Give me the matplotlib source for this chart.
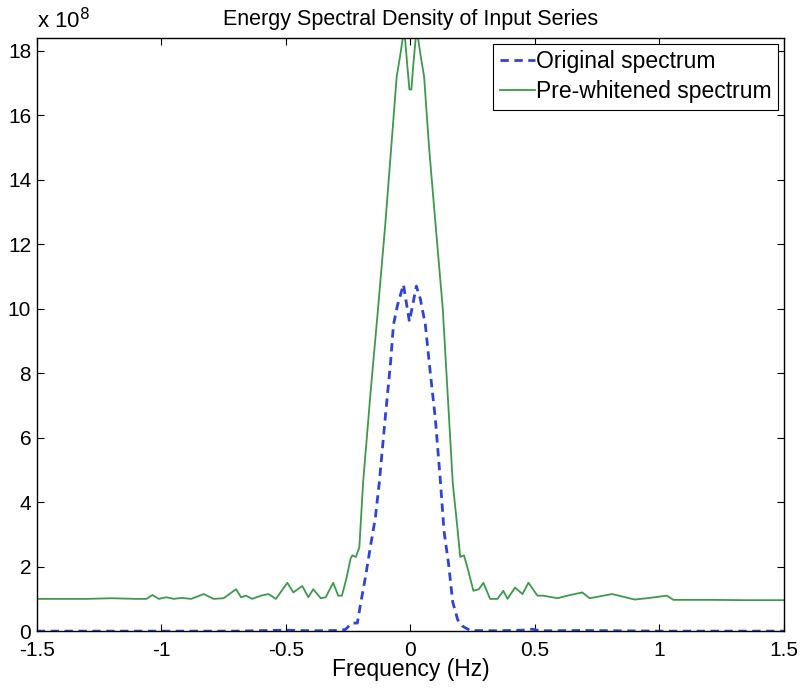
import numpy as np
import matplotlib
matplotlib.use("Agg")
import matplotlib.pyplot as plt

plt.rcParams['font.family'] = ['Liberation Sans', 'DejaVu Sans']
plt.rcParams['axes.unicode_minus'] = False

# values in units of 1e8
freq_white = [-1.5, -1.3, -1.2, -1.1, -1.06, -1.036, -1.01, -0.98, -0.95, -0.92, -0.88,
              -0.83, -0.79, -0.75, -0.70, -0.68, -0.66, -0.635, -0.60, -0.57, -0.54,
              -0.494, -0.47, -0.434, -0.41, -0.39, -0.36, -0.34, -0.31, -0.29, -0.275,
              -0.258, -0.24, -0.233, -0.219, -0.205, -0.19, -0.16, -0.13, -0.10, -0.075,
              -0.055, -0.04, -0.025, -0.012, -0.004, 0.004, 0.012, 0.025, 0.04, 0.055,
              0.075, 0.10, 0.13, 0.17, 0.19, 0.20, 0.215, 0.228, 0.253, 0.275, 0.293,
              0.32, 0.35, 0.373, 0.39, 0.42, 0.45, 0.474, 0.51, 0.534, 0.59, 0.63, 0.69,
              0.72, 0.81, 0.90, 0.95, 1.03, 1.056, 1.2, 1.35, 1.5]
white_vals = [1.0, 1.0, 1.02, 1.0, 1.0, 1.12, 1.0, 1.05, 1.0, 1.03, 1.0,
              1.15, 1.0, 1.02, 1.3, 1.05, 1.1, 1.0, 1.1, 1.15, 1.0,
              1.5, 1.2, 1.4, 1.05, 1.3, 1.02, 1.05, 1.5, 1.1, 1.1,
              1.6, 2.25, 2.35, 2.3, 2.6, 4.6, 7.4, 10.0, 12.7, 15.2,
              17.2, 17.9, 18.7, 17.5, 16.8, 16.8, 17.6, 18.7, 17.9, 17.2,
              15.0, 12.7, 10.0, 4.6, 3.1, 2.3, 2.35, 2.0, 1.25, 1.3, 1.5,
              1.0, 1.0, 1.25, 1.0, 1.35, 1.15, 1.5, 1.1, 1.1, 1.02, 1.1, 1.2,
              1.02, 1.15, 0.98, 1.02, 1.1, 0.97, 0.97, 0.96, 0.96]

freq_orig = [-1.5, -0.7, -0.5, -0.4, -0.3, -0.261, -0.235, -0.213, -0.2, -0.181, -0.161,
             -0.141, -0.125, -0.1, -0.08, -0.068, -0.052, -0.028, -0.004, 0.024, 0.04,
             0.06, 0.08, 0.10, 0.12, 0.135, 0.153, 0.17, 0.19, 0.21, 0.24, 0.35, 0.45,
             0.49, 0.52, 0.7, 1.0, 1.5]
orig_vals = [0.0, 0.0, 0.03, 0.01, 0.02, 0.05, 0.25, 0.25, 0.85, 1.65, 2.6,
             3.5, 4.6, 6.7, 8.3, 9.5, 10.1, 10.75, 9.6, 10.7, 10.3,
             9.5, 8.0, 6.6, 4.7, 3.1, 2.1, 0.9, 0.35, 0.15, 0.02, 0.01, 0.03,
             0.06, 0.01, 0.02, 0.0, 0.0]

x_ticks = np.arange(-1.5, 1.51, 0.5)
x_labels = ['-1.5', '-1', '-0.5', '0', '0.5', '1', '1.5']
y_ticks = np.arange(0, 19, 2)

fig = plt.figure(figsize=(8, 6.89), dpi=100)
ax = fig.add_axes([0.046, 0.084, 0.934, 0.861])

ax.plot(freq_orig, orig_vals, '--', color='#2f44d6', lw=2.0, dashes=(3, 2),
        label='Original spectrum')
ax.plot(freq_white, white_vals, '-', color='#3d9a4c', lw=1.3, label='Pre-whitened spectrum')

ax.set_xlim(-1.5, 1.5)
ax.set_ylim(0, 18.4)
ax.set_xticks(x_ticks)
ax.set_xticklabels(x_labels)
ax.set_yticks(y_ticks)
ax.tick_params(direction='in', top=True, right=True, labelsize=15, length=5)
ax.tick_params(axis='x', pad=7)
ax.tick_params(axis='y', pad=4)
for s in ax.spines.values():
    s.set_linewidth(1.0)

ax.set_title('Energy Spectral Density of Input Series', fontsize=15.5, pad=9)
ax.set_xlabel('Frequency (Hz)', fontsize=16.5, labelpad=-1)
ax.text(0.0, 1.008, 'x 10$^{8}$', transform=ax.transAxes, fontsize=16,
        ha='left', va='bottom')

leg = ax.legend(loc='upper right', fontsize=16.5, frameon=True, fancybox=False,
                edgecolor='black', framealpha=1, borderpad=0.3, labelspacing=0.3,
                handlelength=1.5, handletextpad=0.05, borderaxespad=0.25)
leg.get_frame().set_linewidth(0.8)

fig.savefig('out.png', dpi=100)
